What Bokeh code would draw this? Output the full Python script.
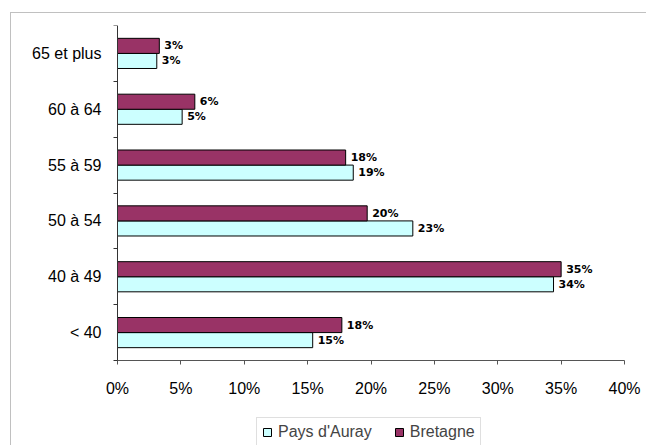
from bokeh.plotting import figure
from bokeh.models import (Range1d, FixedTicker, PrintfTickFormatter, Legend,
                          LegendItem, ColumnDataSource)
from bokeh.core.properties import value
from bokeh.embed import file_html
from bokeh.resources import INLINE

# ---- data (bottom to top) ----
categories = ["< 40", "40 à 49", "50 à 54", "55 à 59", "60 à 64", "65 et plus"]
pays_auray = [15.4, 34.4, 23.3, 18.6, 5.1, 3.1]
bretagne = [17.7, 35.0, 19.7, 18.0, 6.1, 3.3]
x_ticks = [0, 5, 10, 15, 20, 25, 30, 35, 40]
series_names = ["Pays d'Auray", "Bretagne"]

FONT = "Liberation Sans"
BAR_H = 0.27
OFF = 0.135

W, H = 646, 445
FRAME_L = 12                                   # frame starts just right of the border
LEFT, TOP, RIGHT, AXIS_Y = 117, 25, 624, 360   # plot-area pixels
X_MAX = 40
n = len(categories)
band = (AXIS_Y - TOP) / n
y_low = -(H - AXIS_Y) / band          # room below the axis for the legend
xscale = (RIGHT - LEFT) / X_MAX
x_low = -(LEFT - FRAME_L) / xscale    # room left of the axis for labels
x_high = X_MAX + (W - RIGHT) / xscale

centers = [i + 0.5 for i in range(n)]

src_p = ColumnDataSource(dict(
    y=[c - OFF for c in centers], v=pays_auray,
    label=[f"{v:.0f}%" for v in pays_auray]))
src_b = ColumnDataSource(dict(
    y=[c + OFF for c in centers], v=bretagne,
    label=[f"{v:.0f}%" for v in bretagne]))

p = figure(width=W, height=H,
           x_range=Range1d(x_low, x_high), y_range=Range1d(y_low, n),
           output_backend="svg", toolbar_location=None,
           min_border_left=FRAME_L, min_border_top=TOP,
           min_border_right=0, min_border_bottom=0)

p.outline_line_color = None
p.xgrid.grid_line_color = None
p.ygrid.grid_line_color = None
p.background_fill_color = "white"
p.border_fill_alpha = 0
# outer chart-area border (only left/top edges fall inside the view)
p.styles = {
    "background-color": "white",
    "background-image": ("linear-gradient(#c0c0c0, #c0c0c0), "
                         "linear-gradient(#c0c0c0, #c0c0c0)"),
    "background-size": "1px 100%, 100% 1px",
    "background-position": "10px 12px, 10px 12px",
    "background-repeat": "no-repeat",
}

r_p = p.hbar(y="y", left=0, right="v", height=BAR_H, source=src_p,
             fill_color="#CCFFFF", line_color="black", line_width=1)
r_b = p.hbar(y="y", left=0, right="v", height=BAR_H, source=src_b,
             fill_color="#993366", line_color="black", line_width=1)

for src in (src_p, src_b):
    p.text(x="v", y="y", text="label", source=src, x_offset=5,
           text_baseline="middle", text_align="left",
           text_font=value("DejaVu Sans"), text_font_size="11px",
           text_font_style="bold", text_color="black")

# x axis (drawn at y = 0)
xa = p.xaxis[0]
xa.fixed_location = 0
xa.bounds = (0, X_MAX)
xa.ticker = FixedTicker(ticks=x_ticks)
xa.formatter = PrintfTickFormatter(format="%d%%")
xa.major_tick_out = 4
xa.major_tick_in = 0
xa.minor_tick_out = 0
xa.minor_tick_in = 0
xa.major_label_standoff = 15
xa.major_label_text_font = FONT
xa.major_label_text_font_size = "16px"
xa.major_label_text_color = "black"
xa.axis_line_color = "#555555"
xa.major_tick_line_color = "#555555"

# y axis (drawn at x = 0)
ya = p.yaxis[0]
ya.fixed_location = 0
ya.bounds = (0, n)
ya.ticker = FixedTicker(ticks=centers, minor_ticks=list(range(n + 1)))
ya.major_label_overrides = {c: cat for c, cat in zip(centers, categories)}
ya.major_tick_out = 0
ya.major_tick_in = 0
ya.minor_tick_out = 4
ya.minor_tick_in = 0
ya.major_label_standoff = 12
ya.major_label_text_font = FONT
ya.major_label_text_font_size = "16px"
ya.major_label_text_color = "black"
ya.axis_line_color = "#333333"
ya.minor_tick_line_color = "#333333"

legend = Legend(items=[LegendItem(label=series_names[0], renderers=[r_p]),
                       LegendItem(label=series_names[1], renderers=[r_b])],
                orientation="horizontal", location=(256 - FRAME_L, -2),
                glyph_width=10, glyph_height=10, label_standoff=6,
                spacing=22, padding=5, margin=0,
                border_line_color="#c0c0c0", border_line_width=1,
                label_text_font=FONT, label_text_font_size="16px",
                background_fill_color="white", background_fill_alpha=1)
p.add_layout(legend)

open("out.html", "w").write(file_html(p, INLINE))
